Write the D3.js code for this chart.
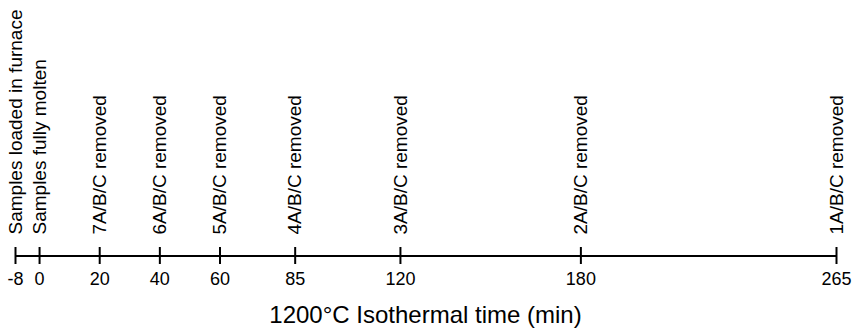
<!DOCTYPE html>
<html>
<head>
<meta charset="utf-8">
<script src="https://cdn.jsdelivr.net/npm/d3@7"></script>
<style>
  html, body { margin: 0; padding: 0; background: #fff; }
  svg { display: block; font-family: "Liberation Sans", Arial, sans-serif; }
</style>
</head>
<body>
<svg id="chart" width="856" height="331"></svg>
<script>
// Timeline events (minutes of the 1200 °C isothermal hold)
const eventTimes = [-8, 0, 20, 40, 60, 85, 120, 180, 265];
const eventLabels = [
  "Samples loaded in furnace",
  "Samples fully molten",
  "7A/B/C removed",
  "6A/B/C removed",
  "5A/B/C removed",
  "4A/B/C removed",
  "3A/B/C removed",
  "2A/B/C removed",
  "1A/B/C removed"
];
const tickLabels = ["-8", "0", "20", "40", "60", "85", "120", "180", "265"];
const axisTitle = "1200°C Isothermal time (min)";

const svg = d3.select("#chart");
const axisY = 255.5;

const x = d3.scaleLinear().domain([-8, 265]).range([15, 836]);

const axis = d3.axisBottom(x)
  .tickValues(eventTimes)
  .tickFormat((d, i) => tickLabels[i])
  .tickSize(0)
  .tickPadding(0);

const g = svg.append("g").attr("transform", `translate(0,${axisY})`).call(axis);
g.select(".domain").attr("stroke", "#000").attr("stroke-width", 2);
g.selectAll(".tick line")
  .attr("y1", -8.5).attr("y2", 8.5)
  .attr("stroke", "#000").attr("stroke-width", 2);
g.selectAll(".tick text")
  .attr("y", 29.5).attr("dy", null)
  .attr("fill", "#000")
  .style("font-size", "18px")
  .style("font-family", "Liberation Sans, Arial, sans-serif");

// Vertical event labels
svg.append("g").selectAll("text")
  .data(eventTimes)
  .join("text")
  .attr("transform", d => `translate(${x(d)},${axisY - 21}) rotate(-90)`)
  .attr("text-anchor", "start")
  .attr("dy", "0.35em")
  .style("font-size", "19px")
  .attr("fill", "#000")
  .text((d, i) => eventLabels[i]);

svg.append("text")
  .attr("x", (x.range()[0] + x.range()[1]) / 2)
  .attr("y", 323)
  .attr("text-anchor", "middle")
  .style("font-size", "24px")
  .attr("fill", "#000")
  .text(axisTitle);
</script>
</body>
</html>
